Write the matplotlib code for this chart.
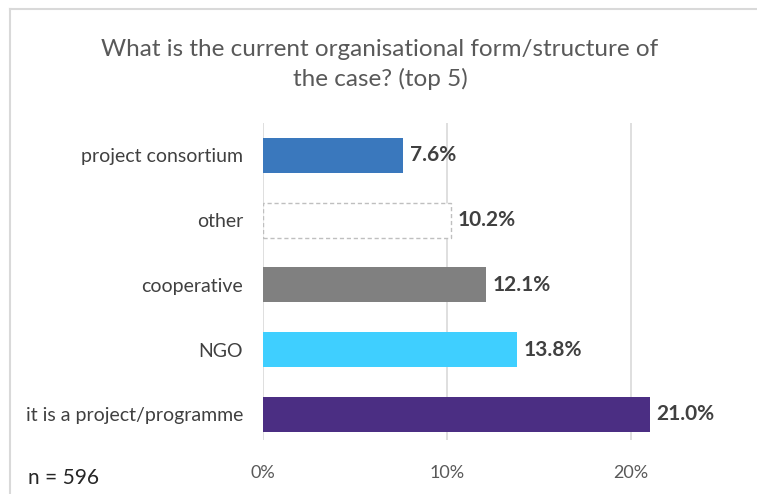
import numpy as np
import matplotlib.pyplot as plt
from matplotlib.lines import Line2D

plt.rcParams['font.family'] = ['Lato', 'DejaVu Sans']

categories = ['it is a project/programme', 'NGO', 'cooperative', 'other', 'project consortium']
values = [21.0, 13.8, 12.1, 10.2, 7.6]
colors = ['#4b2e83', '#3fcfff', '#808080', 'white', '#3a78bd']

fig = plt.figure(figsize=(7.57, 4.94), dpi=100)
ax = fig.add_axes([0.347, 0.109, 0.584, 0.642])

y = np.arange(len(categories))
bars = ax.barh(y, values, height=0.54, color=colors, zorder=3)
# "other" is drawn as a dashed outline
bars[3].set_edgecolor('#bfbfbf')
bars[3].set_linestyle((0, (3, 2)))
bars[3].set_linewidth(1)

for yi, v in zip(y, values):
    ax.text(v + 0.38, yi, f'{v:.1f}%', va='center', ha='left',
            fontsize=15, fontweight='bold', color='#404040')

ax.set_xlim(0, 24)
ax.set_ylim(-0.4, 4.5)
ax.set_xticks([0, 10, 20])
ax.set_xticklabels(['0%', '10%', '20%'], color='#595959', fontsize=13)
ax.set_yticks(y)
ax.set_yticklabels(categories, fontsize=14, color='#404040')
ax.tick_params(axis='both', length=0)
ax.tick_params(axis='x', pad=18)
ax.tick_params(axis='y', pad=14)
ax.grid(axis='x', color='#d9d9d9', linewidth=1.2, zorder=0)
for s in ax.spines.values():
    s.set_visible(False)

fig.text(0.502, 0.87, 'What is the current organisational form/structure of\nthe case? (top 5)',
         ha='center', va='center', fontsize=17.5, color='#595959', linespacing=1.42)
fig.text(0.037, 0.032, 'n = 596', fontsize=15, color='#262626', va='center')

# border of the chart area (left and top only visible)
fig.add_artist(Line2D([0.0132, 0.0132], [0, 0.982], transform=fig.transFigure, color='#d9d9d9', linewidth=1.5))
fig.add_artist(Line2D([0.0132, 1.0], [0.982, 0.982], transform=fig.transFigure, color='#d9d9d9', linewidth=1.5))

fig.savefig('out.png', dpi=100)
